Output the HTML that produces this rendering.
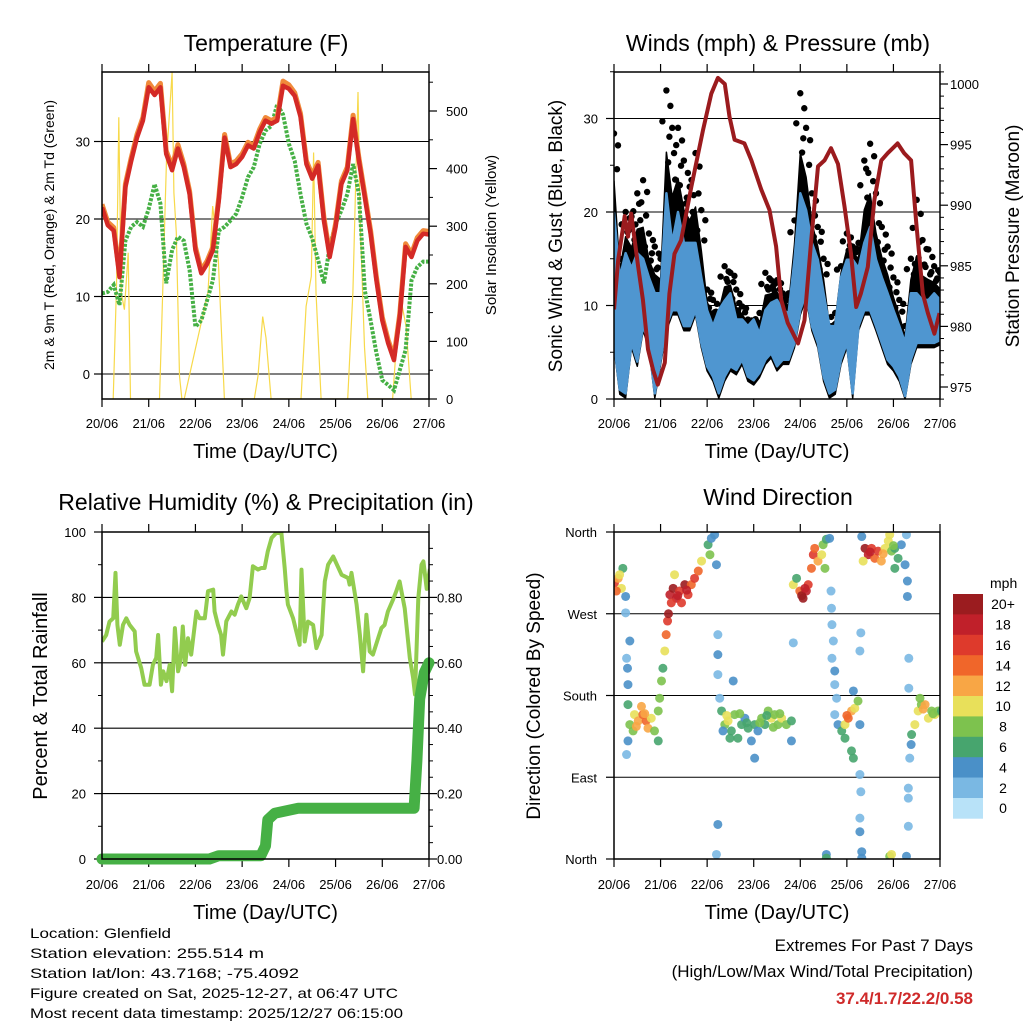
<!DOCTYPE html>
<html><head><meta charset="utf-8"><style>
html,body{margin:0;padding:0;background:#fff;}
svg{display:block;font-family:"Liberation Sans",Arial,sans-serif;}
</style></head><body>
<svg id="chart" width="1024" height="1024" viewBox="0 0 1024 1024" xmlns="http://www.w3.org/2000/svg"></svg>
<script>
// ===== DATA =====
const dayLabels = ["20/06","21/06","22/06","23/06","24/06","25/06","26/06","27/06"];
const tempT = [21.5,19.2,18.5,12.5,24.1,27.5,30.5,32.7,37,36,37,28.4,26.3,29.1,26.7,23.2,16,13,14.2,16,22.4,30.5,26.7,27.1,28,29.5,29.1,31.2,32.7,32.3,32.7,37.2,36.8,35.9,33.2,27.1,25.2,26.9,19.8,15.1,19,24.5,26.3,32.9,27.5,22.8,18.1,12.1,6.9,4.0,1.8,7.4,16.4,15.1,17.2,18.1,18.0];
const tempT9 = [21.9,19.6,18.9,12.9,24.5,27.9,30.9,33.1,37.6,36.5,37.5,28.8,26.8,29.6,27.1,23.6,16.4,13.4,14.6,16.4,22.8,30.9,27.1,27.5,28.4,29.9,29.5,31.6,33.1,32.7,33.1,37.8,37.3,36.3,33.6,27.5,25.7,27.3,20.2,15.5,19.4,24.9,26.7,33.4,27.9,23.2,18.5,12.5,7.3,4.4,2.2,7.8,16.8,15.5,17.6,18.5,18.4];
const tempTd = [10.4,10.6,11.5,8.9,17.2,19,19.6,19,21.3,24.5,22,11.7,16,17.7,17.2,13.4,6.1,6.9,9.5,12.1,18.5,19,19.8,20.7,22.8,25.4,26.7,29.7,31.4,32,34.8,33.5,29.7,27.5,23.2,19.4,17.5,14.7,11.7,16.4,19.4,21.1,23.2,27.1,23.2,10.8,6.9,2.7,-0.8,-1.4,-2.1,0.5,3.1,12.1,13.8,14.5,14.5];
const solarDays = [0.24,0.31,0.36,0.41,0.48,0.56,0.61,1.23,1.30,1.38,1.50,1.54,1.59,1.66,1.71,1.76,2.27,2.37,2.49,2.62,2.69,3.26,3.34,3.44,3.51,3.62,4.26,4.37,4.48,4.53,4.58,4.69,5.26,5.37,5.48,5.53,5.62,5.69,6.22,6.33,6.40,6.51,6.62];
const solarVals = [0,196,489,185,155,254,0,0,185,416,567,358,289,40,0,0,185,335,242,0,0,0,40,143,106,0,0,161,213,428,185,0,0,185,533,300,90,0,0,126,172,126,0];
const windLo = [6,1,0.6,6,4,7.8,6,0.6,4.2,7.8,9.5,9.5,7.8,7.8,9.5,6,3.5,2.4,0.6,2.4,3.5,3.1,4.2,2.4,2,2.8,4.2,4.9,3.5,4.2,4.2,6,9.5,11.3,7.8,6,2.4,0.6,1,4.2,6,0.6,7.8,9.5,9.5,7.8,6,4.2,3.5,2.4,0.3,4.2,6,6,6,6,6.3];
const windHi = [19.9,13,15.6,14,15.6,15,13,11.3,11.3,22,16.7,20,16.7,16.7,16.7,13,9.5,7.8,9.5,10.5,11.3,8.5,8.5,7.8,8.5,7,9.5,10.3,10.6,9.5,9.2,14.9,22,20.2,16.7,14.9,11.3,7.8,7.8,13,14.9,14.9,14,16.7,18.4,14.9,13,11.3,9.5,7.8,6,11.3,11.3,10.6,10.6,11.3,10.6];
const gustHi = [28.4,15,20,19.5,22,23.4,17.7,16.3,15,33,29,29,25.5,22.7,26.3,20.2,11.7,10.6,9.2,14.2,13.5,11.7,9.9,8.5,8.1,9.2,13.5,12.7,12.7,11.3,11.3,19.1,32.7,29,22,18.4,15,7.8,9.2,14.2,17.7,16.3,16.7,25.5,27.3,22,18.4,16.3,13,10.6,7.8,15,21.3,17,16,14.2,13.5];
const presDays = [0,0.09,0.23,0.3,0.37,0.52,0.62,0.73,0.84,0.94,1.09,1.19,1.3,1.44,1.66,1.91,2.09,2.23,2.38,2.48,2.59,2.8,2.95,3.16,3.34,3.48,3.59,3.73,3.95,4.09,4.23,4.38,4.52,4.66,4.81,4.95,5.09,5.2,5.3,5.45,5.59,5.74,5.88,6.09,6.23,6.38,6.49,6.63,6.74,6.88,6.99];
const presVals = [981.4,985.5,989.1,987.4,989.3,984.9,982.2,978.1,976.4,975.2,977,982.7,986,987.1,991.5,996.2,999.2,1000.5,1000,997.3,995.4,995.1,993.7,991.3,989.6,986.6,982.2,980.3,978.6,980.5,986.9,993.2,993.7,994.7,993.4,989.9,986,981.6,982.7,984.9,990.4,993.7,994.3,995.1,994.3,993.7,988.6,982.7,981.1,979.4,981.1];
const rhDays = [0,0.09,0.16,0.24,0.29,0.33,0.38,0.45,0.52,0.59,0.7,0.73,0.84,0.91,1.02,1.09,1.16,1.2,1.26,1.31,1.38,1.45,1.5,1.56,1.63,1.68,1.73,1.78,1.84,1.91,2.02,2.09,2.2,2.27,2.38,2.41,2.48,2.55,2.59,2.66,2.77,2.84,2.91,2.98,3.09,3.16,3.23,3.34,3.41,3.48,3.55,3.63,3.73,3.84,3.91,3.95,3.98,4.09,4.16,4.23,4.27,4.34,4.41,4.52,4.59,4.7,4.77,4.84,4.95,5.13,5.27,5.3,5.34,5.45,5.52,5.59,5.66,5.73,5.8,5.91,5.98,6.05,6.12,6.23,6.3,6.37,6.48,6.59,6.66,6.7,6.77,6.84,6.88,6.95,7.02];
const rhVals = [66.5,68.5,72.6,73.6,87.5,71.6,65.5,71.6,73.6,71.6,69.6,63.5,58.4,53.3,53.3,59.4,61.5,68.5,53.3,57.4,54.4,59.4,51.3,70.6,57.4,60.5,71.1,59.4,67.5,62.5,75.7,73.6,73.6,81.9,82.4,75.7,71.6,68.5,62.5,72.7,75.7,74.7,77.8,80.3,76.7,79.8,89.5,88.5,89,89,94.1,98.2,99.7,99.7,89,81.9,77.8,73.6,69.6,65.5,88.5,66.5,72.6,71.6,64.5,68.5,84.9,90,92.5,86.9,85.9,83.9,87.5,77.8,68.5,57.4,74.7,63.5,62.5,67.5,70.6,71.6,75.7,79.3,81.9,84.9,76.7,61.5,55.4,50.3,79.8,90,91,82.6,88.7];
const precipDays = [0,2.3,2.5,3.4,3.5,3.55,3.7,4.2,6.68,6.74,6.8,6.9,7];
const precipVals = [0,0,0.01,0.01,0.04,0.12,0.14,0.155,0.155,0.3,0.49,0.57,0.6];
// wind direction scatter (paired arrays)
const dirDays = [0.01,0.09,0.16,0.19,0.05,0.12, 0.25,0.25,0.27,0.29,0.34,0.30, 0.30,0.34,0.30,0.27,0.44,0.52,0.62,0.69,0.73,0.80,0.87,0.95,0.59,0.41,0.95,0.48,0.66,
 0.98,1.02,1.05,1.09,1.12,1.15,1.17, 1.20,1.27,1.34,1.41,1.52,1.59,1.66,1.73,1.81,1.88,1.23,1.45,1.30,1.37,1.56,
 2.02,2.09,2.16,2.06,2.20, 2.23,2.23,2.23,2.27,2.23,2.20,
 2.31,2.38,2.45,2.52,2.59,2.66,2.74,2.81,2.88,2.95,3.02,3.09,3.17,3.24,3.31,3.38,3.45,3.52,3.60,3.70,3.81,2.56,3.02,3.81,2.34,2.49,2.42,2.70,2.85,3.13,3.28,3.42,3.56,
 3.85,3.92,3.99,4.06,4.13,4.17,4.24,4.28,4.31,4.38,4.46,4.49,4.56,4.63,4.53,3.85,4.03,4.10,
 4.66,4.67,4.68,4.71,4.68,4.74,4.74,4.78,
 4.74,4.81,4.89,4.96,5.03,5.10,5.17,5.24,4.96,5.14,5.10,5.14,5.28,5.00,
 5.28,5.30,5.28,5.28,5.32,5.32,5.32,5.30,5.28,
 5.39,5.46,5.53,5.60,5.67,5.74,5.82,5.89,5.96,6.03,6.10,6.17,6.25,5.92,5.35,6.03,5.50,5.78,6.00,
 6.28,6.30,6.30,6.33,6.33,6.32,6.32,6.32,6.28,
 6.35,6.38,6.39,6.46,6.53,6.60,6.68,6.75,6.82,6.89,6.96,7.03,6.57,6.64,6.85,
 4.56,4.56,5.92,5.96];
const dirVals = [304,309,298,320,295,313, 289,271,221,210,240,192, 170,148,130,115,159,152,159,152,144,155,141,130,168,141,163,146,160,
 177,196,210,229,247,262,270, 291,298,287,295,302,291,302,309,317,328,282,282,313,290,296,
 346,353,357,335,324, 247,225,203,177,38,5,
 163,148,152,141,159,133,148,155,144,130,148,141,155,148,163,155,159,148,155,148,152,196,111,130,141,133,158,160,150,150,158,145,160,
 302,309,295,287,295,302,320,335,342,328,335,346,352,353,320,238,290,298,
 295,276,258,240,221,207,192,177,
 159,148,141,148,155,163,166,174,133,185,119,111,148,158,
 93,74,45,30,8,1,355,249,229,
 342,335,342,331,339,328,342,350,339,342,331,346,324,357,328,320,338,336,345,
 357,306,289,221,188,78,67,36,3,
 111,126,137,148,163,170,170,155,163,159,163,163,177,165,160,
 5,1,3,5];
const dirSpeeds = [16,12,10,6,14,10, 4,2,2,3,4,3, 6,8,4,2,10,12,14,14,12,10,8,6,12,8,8,12,12,
 8,8,6,10,14,16,20, 18,20,18,16,20,16,14,16,14,10,16,16,10,18,18,
 6,4,4,8,4, 2,4,1,2,4,2,
 6,8,10,6,8,6,6,4,6,4,6,4,8,6,8,10,8,8,10,8,6,4,4,4,4,6,10,8,6,8,6,8,8,
 10,6,14,20,18,16,14,16,14,12,10,8,6,4,8,2,20,18,
 2,2,2,2,2,3,2,2,
 2,4,6,10,14,12,10,8,6,4,6,6,4,14,
 2,2,2,3,4,4,4,2,2,
 20,18,16,14,16,12,10,10,8,6,6,4,4,10,10,6,18,12,8,
 2,4,4,2,2,2,2,2,4,
 2,4,6,10,10,8,12,10,8,10,8,6,8,12,8,
 4,6,8,10];
const speedColors = ["#b8e2f8","#7ab8e3","#4a90c8","#47a56e","#7dc24e","#e8e05a","#f8a645","#f0662a","#de3a2c","#c0202a","#9b1c1f"];
const speedLabels = ["0","2","4","6","8","10","12","14","16","18","20+"];

// ===== HELPERS =====
const NS = "http://www.w3.org/2000/svg";
const svg = document.getElementById("chart");
function mk(tag, attrs, parent){ const e=document.createElementNS(NS,tag); for(const k in attrs) e.setAttribute(k,attrs[k]); (parent||svg).appendChild(e); return e; }
function txt(s, attrs, parent){ const e=mk("text",attrs,parent); e.textContent=s; return e; }
function lin(d0,d1,p0,p1){ return v => p0 + (v-d0)/(d1-d0)*(p1-p0); }
function pathFrom(xs, ys){ return xs.map((x,i)=>(i?"L":"M")+x.toFixed(1)+","+ys[i].toFixed(1)).join(""); }

function panel(name, L, R, T, B){
  const g = mk("g",{});
  
  
  const cp = mk("clipPath",{id:"clip-"+name},g); mk("rect",{x:L,y:T,width:R-L,height:B-T},cp);
  return g;
}
function frame(g, L, R, T, B){
  const r = mk("rect",{x:L,y:T,width:R-L,height:B-T,fill:"none",stroke:"#000","stroke-width":1.5},g);
  
  
}
function xAxis(g, L, R, T, B, labelY){
  const xs = lin(0,7,L,R);
  const ax = mk("g",{},g);
  
  
  dayLabels.forEach((lab,i)=>{
    const x=xs(i);
    mk("line",{x1:x,x2:x,y1:T-8,y2:T,stroke:"#000","stroke-width":1.2},ax);
    mk("line",{x1:x,x2:x,y1:B,y2:B+8,stroke:"#000","stroke-width":1.2},ax);
    const t=txt(lab,{x:x,y:labelY,"font-size":13,"text-anchor":"middle"},ax);
    
    
  });
  const tt = txt("Time (Day/UTC)",{x:(L+R)/2,y:labelY+30,"font-size":20,"text-anchor":"middle"},ax);
  
  
  return xs;
}
function yTicks(g, vals, labels, ys, x, side, grid, L, R, fs){
  const ax = mk("g",{},g);
  
  
  vals.forEach((v,i)=>{
    const y=ys(v);
    if(grid) mk("line",{x1:L,x2:R,y1:y,y2:y,stroke:"#000","stroke-width":1.1},ax);
    if(side==="left") mk("line",{x1:L-8,x2:L,y1:y,y2:y,stroke:"#000","stroke-width":1.2},ax);
    else mk("line",{x1:R,x2:R+8,y1:y,y2:y,stroke:"#000","stroke-width":1.2},ax);
    const t=txt(labels[i],{x:x,y:y+5,"font-size":fs||13,"text-anchor":side==="left"?"end":"start"},ax);
    
    
  });
}
function minor(g, vals, ys, X, dir){
  vals.forEach(v=>{ const y=ys(v); mk("line",{x1:X,x2:X+dir*4,y1:y,y2:y,stroke:"#000","stroke-width":1},g); });
}
function rotTitle(g, s, x, y, fs, name){
  const t=txt(s,{x:x,y:y,"font-size":fs,"text-anchor":"middle",transform:`rotate(-90 ${x} ${y})`},g);
  
  
}
function title(s, x, y, name){
  const t=txt(s,{x:x,y:y,"font-size":23,"text-anchor":"middle"});
  
  
}
const idx = a => a.map((_,i)=>i/8);

// ===== PANEL 1: TEMPERATURE =====
(function(){
  const L=102,R=429,T=72,B=399;
  const g=panel("temperature-panel",L,R,T,B);
  title("Temperature (F)",266,51,"temperature-title");
  const xs=xAxis(g,L,R,T,B,428);
  const ys=lin(0,10,374,296.5), yr=lin(0,500,B,111);
  yTicks(g,[0,10,20,30],["0","10","20","30"],ys,90,"left",true,L,R);
  yTicks(g,[0,100,200,300,400,500],["0","100","200","300","400","500"],yr,446,"right",false,L,R);
  minor(g,[50,150,250,350,450,550],yr,R,1);
  const pg=mk("g",{"clip-path":"url(#clip-temperature-panel)"},g);
  const sol=mk("path",{d:pathFrom(solarDays.map(xs),solarVals.map(yr)),fill:"none",stroke:"#f7d94a","stroke-width":1.2},pg);
  
  
  const td=mk("path",{d:pathFrom(idx(tempTd).map(xs),tempTd.map(ys)),fill:"none",stroke:"#46b045","stroke-width":4,"stroke-dasharray":"3 1.5"},pg);
  
  
  const t9=mk("path",{d:pathFrom(idx(tempT9).map(xs),tempT9.map(ys)),fill:"none",stroke:"#f08a3a","stroke-width":5,"stroke-linejoin":"round"},pg);
  
  
  const t2=mk("path",{d:pathFrom(idx(tempT).map(xs),tempT.map(ys)),fill:"none",stroke:"#d42a26","stroke-width":4.5,"stroke-linejoin":"round"},pg);
  
  
  frame(g,L,R,T,B);
  rotTitle(g,"2m & 9m T (Red, Orange) & 2m Td (Green)",54,235,14,"y-axis-title-left");
  rotTitle(g,"Solar Insolation (Yellow)",496,235,15,"y-axis-title-right");
})();

// ===== PANEL 2: WINDS & PRESSURE =====
(function(){
  const L=614,R=940,T=72,B=399;
  const g=panel("winds-panel",L,R,T,B);
  title("Winds (mph) & Pressure (mb)",778,51,"winds-title");
  const xs=xAxis(g,L,R,T,B,428);
  const ys=lin(0,10,B,305.5), yp=lin(975,1000,387,84);
  yTicks(g,[0,10,20,30],["0","10","20","30"],ys,598,"left",true,L,R);
  yTicks(g,[975,980,985,990,995,1000],["975","980","985","990","995","1000"],yp,950,"right",false,L,R);
  const mv=[];for(let p=974;p<=1001;p++) if(p%5) mv.push(p);
  minor(g,mv,yp,R,1);
  minor(g,[5,15,25,35],ys,L,-1);
  const pg=mk("g",{"clip-path":"url(#clip-winds-panel)"},g);
  const d=idx(windLo).map(xs);
  const dense=gustHi.map((v,i)=>windHi[i]+(v-windHi[i])*0.4);
  const gb=mk("path",{d:pathFrom(d,dense.map(ys))+pathFrom(d.slice().reverse(),windLo.slice().reverse().map(v=>ys(Math.max(0,v-0.5)))).replace("M","L")+"Z",fill:"#000",stroke:"#000","stroke-width":1.5,"stroke-linejoin":"round"},pg);
  
  
  gustHi.forEach((v,i)=>{
    [[1,0],[0.85,4],[0.7,-4],[0.55,3]].forEach(([f,dx])=>{
      const c=mk("circle",{cx:d[i]+dx,cy:ys(windHi[i]+(v-windHi[i])*f),r:3.2,fill:"#000"},pg);
      
      
    });
  });
  const wb=mk("path",{d:pathFrom(d,windHi.map(ys))+pathFrom(d.slice().reverse(),windLo.slice().reverse().map(ys)).replace("M","L")+"Z",fill:"#4f96d0",stroke:"#4f96d0","stroke-width":2.5,"stroke-linejoin":"round"},pg);
  
  
  const pr=mk("path",{d:pathFrom(presDays.map(xs),presVals.map(yp)),fill:"none",stroke:"#9b1b1e","stroke-width":4,"stroke-linejoin":"round"},pg);
  
  
  frame(g,L,R,T,B);
  rotTitle(g,"Sonic Wind & Gust (Blue, Black)",562,236,19,"y-axis-title-left");
  rotTitle(g,"Station Pressure (Maroon)",1019,236,19,"y-axis-title-right");
})();

// ===== PANEL 3: RH & PRECIP =====
(function(){
  const L=102,R=429,T=532,B=859;
  const g=panel("humidity-panel",L,R,T,B);
  title("Relative Humidity (%) & Precipitation (in)",266,510,"humidity-title");
  const xs=xAxis(g,L,R,T,B,889);
  const ys=lin(0,100,B,T), yr=lin(0,1,B,T);
  yTicks(g,[0,20,40,60,80,100],["0","20","40","60","80","100"],ys,86,"left",true,L,R);
  yTicks(g,[0,0.2,0.4,0.6,0.8],["0.00","0.20","0.40","0.60","0.80"],yr,437,"right",false,L,R);
  minor(g,[10,30,50,70,90],ys,L,-1);
  minor(g,[0.05,0.1,0.15,0.25,0.3,0.35,0.45,0.5,0.55,0.65,0.7,0.75,0.85,0.9,0.95],yr,R,1);
  const pg=mk("g",{"clip-path":"url(#clip-humidity-panel)"},g);
  const rh=mk("path",{d:pathFrom(rhDays.map(xs),rhVals.map(ys)),fill:"none",stroke:"#92cc4f","stroke-width":4,"stroke-linejoin":"round"},pg);
  
  
  const pc=mk("path",{d:pathFrom(precipDays.map(xs),precipVals.map(yr)),fill:"none",stroke:"#46b045","stroke-width":11,"stroke-linejoin":"round","stroke-linecap":"round"},g);
  
  
  frame(g,L,R,T,B);
  rotTitle(g,"Percent & Total Rainfall",47,696,20,"y-axis-title-left");
})();

// ===== PANEL 4: WIND DIRECTION =====
(function(){
  const L=614,R=940,T=532,B=859;
  const g=panel("direction-panel",L,R,T,B);
  title("Wind Direction",778,505,"direction-title");
  const xs=xAxis(g,L,R,T,B,889);
  const ys=lin(0,360,B,T);
  yTicks(g,[0,90,180,270,360],["North","East","South","West","North"],ys,597,"left",true,L,R);
  const pg=mk("g",{"clip-path":"url(#clip-direction-panel)"},g);
  dirDays.forEach((dd,i)=>{
    const ci=Math.min(10,Math.round(dirSpeeds[i]/2));
    const c=mk("circle",{cx:xs(dd),cy:ys(dirVals[i]),r:4.5,fill:speedColors[ci],"fill-opacity":0.9},pg);
    
    
  });
  frame(g,L,R,T,B);
  rotTitle(g,"Direction (Colored By Speed)",540,696,19,"y-axis-title-left");
  const cb=mk("g",{});
  
  
  const lt=txt("mph",{x:990,y:588,"font-size":14},cb);
  
  
  const h=20.4;
  for(let k=10;k>=0;k--){
    const y=594+(10-k)*h;
    const r=mk("rect",{x:953,y:y,width:30,height:h+0.3,fill:speedColors[k]},cb);
    
    
    const t=txt(speedLabels[k],{x:1003,y:y+h/2+5,"font-size":14,"text-anchor":"middle"},cb);
    
    
  }
})();

// ===== FOOTER TEXT =====
(function(){
  const g=mk("g",{});
  
  
  const lines=["Location: Glenfield","Station elevation: 255.514 m","Station lat/lon: 43.7168; -75.4092","Figure created on Sat, 2025-12-27, at 06:47 UTC","Most recent data timestamp: 2025/12/27 06:15:00"];
  const widths=[141,234,269,368,373];
  lines.forEach((s,i)=>{
    const t=txt(s,{x:30,y:938+i*20,"font-size":14,textLength:widths[i],lengthAdjust:"spacingAndGlyphs"},g);
    
    
  });
  const g2=mk("g",{});
  
  
  const a=txt("Extremes For Past 7 Days",{x:973,y:951,"font-size":17,"text-anchor":"end"},g2);
  
  
  const b=txt("(High/Low/Max Wind/Total Precipitation)",{x:973,y:977,"font-size":17,"text-anchor":"end"},g2);
  
  
  const c=txt("37.4/1.7/22.2/0.58",{x:973,y:1004,"font-size":17,"font-weight":"bold",fill:"#cf2a2a","text-anchor":"end"},g2);
  
  
})();
</script>
</body></html>
